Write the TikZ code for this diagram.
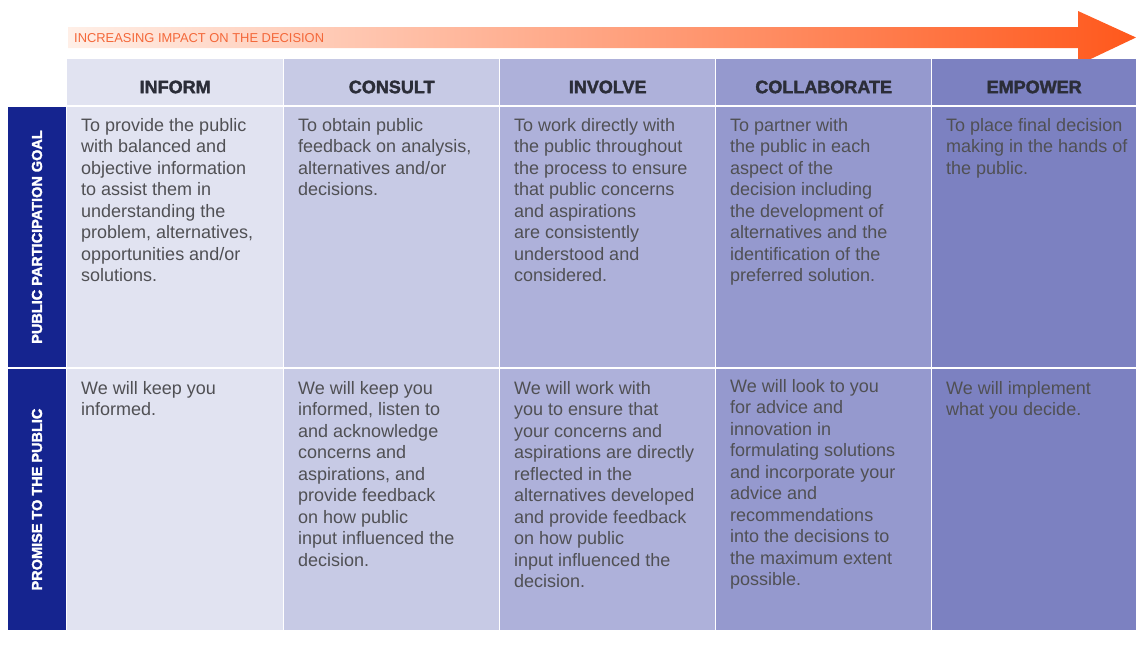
\documentclass[tikz,border=0pt]{standalone}
\usepackage{fontspec}
\setmainfont{Liberation Sans}
\newfontfamily\headfont[BoldFont={Liberation Sans Bold}, BoldFeatures={FakeBold=2}]{Liberation Sans}
\usetikzlibrary{positioning}
\definecolor{colA}{HTML}{E1E3F1}
\definecolor{colB}{HTML}{C7CAE5}
\definecolor{colC}{HTML}{AEB1DA}
\definecolor{colD}{HTML}{9599CE}
\definecolor{colE}{HTML}{7C81C1}
\definecolor{navy}{HTML}{15248F}
\definecolor{headtext}{HTML}{2B2D38}
\definecolor{bodytext}{HTML}{505054}
\definecolor{orLeft}{HTML}{FFEFE7}
\definecolor{orMid}{HTML}{FFC0A2}
\definecolor{orRight}{HTML}{FF581C}
\definecolor{orText}{HTML}{F4683A}

\begin{document}
\begin{tikzpicture}[x=1pt,y=-1pt]

      \useasboundingbox (0,0) rectangle (1136,645);

      \shade[left color=orLeft, middle color=orMid, right color=orRight]
        (68,27) -- (1078,27) -- (1078,11) -- (1136,37.5) -- (1078,65) -- (1078,48) -- (68,48) -- cycle;
      \node[anchor=west, text=orText, inner sep=0, font=\fontsize{12.9}{14}\selectfont] (impact) at (74,38)
        {INCREASING IMPACT ON THE DECISION};

      \begin{scope}[every node/.style={anchor=north west, inner sep=0, minimum height=46pt,
          text height=22pt, text depth=0pt,
          text=headtext, font=\headfont\bfseries\fontsize{18}{20}\selectfont}]
        \node[fill=colA, minimum width=216pt] (h1) at (67,59)  {INFORM};
        \node[fill=colB, minimum width=215pt] (h2) at (284,59) {CONSULT};
        \node[fill=colC, minimum width=215pt] (h3) at (500,59) {INVOLVE};
        \node[fill=colD, minimum width=215pt] (h4) at (716,59) {COLLABORATE};
        \node[fill=colE, minimum width=204pt] (h5) at (932,59) {EMPOWER};
      \end{scope}

      \begin{scope}[every node/.style={rotate=90, fill=navy, text=white, inner sep=0, minimum height=58pt,
          font=\headfont\bfseries\fontsize{14.5}{16}\selectfont}]
        \node[minimum width=260pt] (goal)    at (37,237)   {PUBLIC PARTICIPATION GOAL};
        \node[minimum width=261pt] (promise) at (37,499.5) {PROMISE TO THE PUBLIC};
      \end{scope}

      \begin{scope}[every node/.style={anchor=north west, inner sep=0}]
        \node[fill=colA, minimum width=216pt, minimum height=260pt] (g1) at (67,107)  {};
        \node[fill=colB, minimum width=215pt, minimum height=260pt] (g2) at (284,107) {};
        \node[fill=colC, minimum width=215pt, minimum height=260pt] (g3) at (500,107) {};
        \node[fill=colD, minimum width=215pt, minimum height=260pt] (g4) at (716,107) {};
        \node[fill=colE, minimum width=204pt, minimum height=260pt] (g5) at (932,107) {};
        \node[fill=colA, minimum width=216pt, minimum height=261pt] (p1) at (67,369)  {};
        \node[fill=colB, minimum width=215pt, minimum height=261pt] (p2) at (284,369) {};
        \node[fill=colC, minimum width=215pt, minimum height=261pt] (p3) at (500,369) {};
        \node[fill=colD, minimum width=215pt, minimum height=261pt] (p4) at (716,369) {};
        \node[fill=colE, minimum width=204pt, minimum height=261pt] (p5) at (932,369) {};
      \end{scope}

      \begin{scope}[every node/.style={inner sep=0, align=left, text=bodytext,
          font=\fontsize{18}{21.5}\selectfont}]
        \node[below right=11pt and 14pt of g1.north west] (gt1) {To provide the public\\with balanced and\\objective information\\to assist them in\\understanding the\\problem, alternatives,\\opportunities and/or\\solutions.};
        \node[below right=11pt and 14pt of g2.north west] (gt2) {To obtain public\\feedback on analysis,\\alternatives and/or\\decisions.};
        \node[below right=11pt and 14pt of g3.north west] (gt3) {To work directly with\\the public throughout\\the process to ensure\\that public concerns\\and aspirations\\are consistently\\understood and\\considered.};
        \node[below right=11pt and 14pt of g4.north west] (gt4) {To partner with\\the public in each\\aspect of the\\decision including\\the development of\\alternatives and the\\identification of the\\preferred solution.};
        \node[below right=11pt and 14pt of g5.north west] (gt5) {To place final decision\\making in the hands of\\the public.};

        \node[below right=12pt and 14pt of p1.north west] (pt1) {We will keep you\\informed.};
        \node[below right=12pt and 14pt of p2.north west] (pt2) {We will keep you\\informed, listen to\\and acknowledge\\concerns and\\aspirations, and\\provide feedback\\on how public\\input influenced the\\decision.};
        \node[below right=12pt and 14pt of p3.north west] (pt3) {We will work with\\you to ensure that\\your concerns and\\aspirations are directly\\reflected in the\\alternatives developed\\and provide feedback\\on how public\\input influenced the\\decision.};
        \node[below right=10pt and 14pt of p4.north west] (pt4) {We will look to you\\for advice and\\innovation in\\formulating solutions\\and incorporate your\\advice and\\recommendations\\into the decisions to\\the maximum extent\\possible.};
        \node[below right=12pt and 14pt of p5.north west] (pt5) {We will implement\\what you decide.};
      \end{scope}

    \end{tikzpicture}
\end{document}
